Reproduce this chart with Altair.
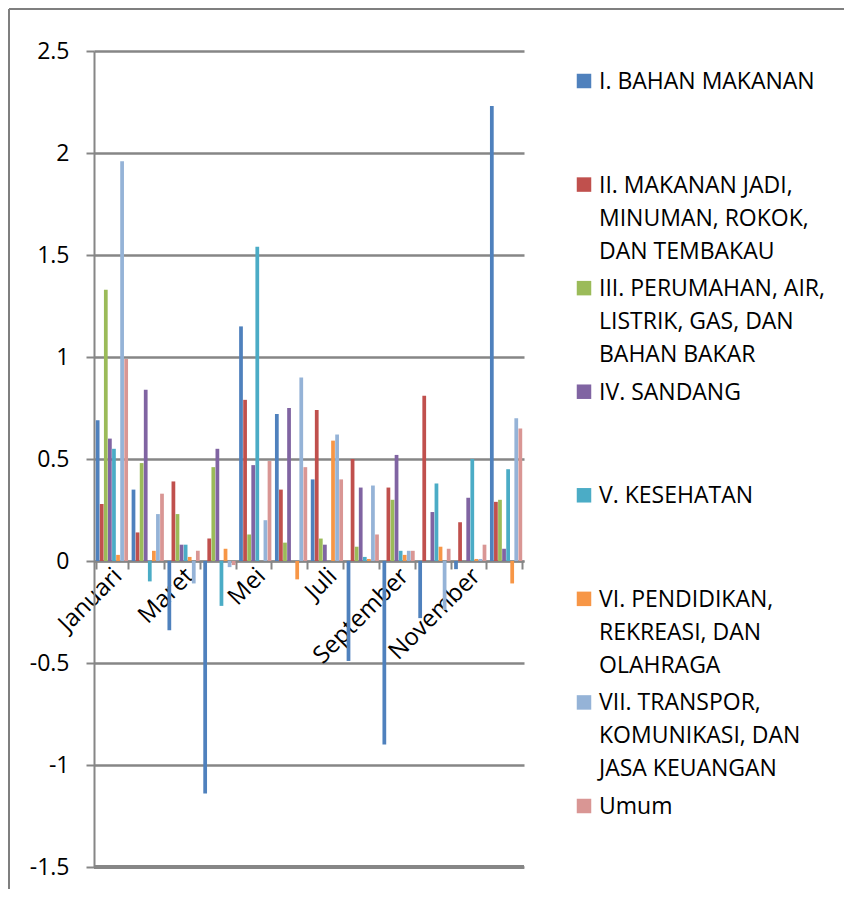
import altair as alt
import pandas as pd

months = ["Januari", "Februari", "Maret", "April", "Mei", "Juni", "Juli",
          "Agustus", "September", "Oktober", "November", "Desember"]
shown_labels = ["Januari", "Maret", "Mei", "Juli", "September", "November"]

series = [
    "I. BAHAN MAKANAN",
    "II. MAKANAN JADI,|MINUMAN, ROKOK,|DAN TEMBAKAU",
    "III. PERUMAHAN, AIR,|LISTRIK, GAS, DAN|BAHAN BAKAR",
    "IV. SANDANG",
    "V. KESEHATAN",
    "VI. PENDIDIKAN,|REKREASI, DAN|OLAHRAGA",
    "VII. TRANSPOR,|KOMUNIKASI, DAN|JASA KEUANGAN",
    "Umum",
]
colors = ["#4F81BD", "#C0504D", "#9BBB59", "#8064A2",
          "#4BACC6", "#F79646", "#95B3D7", "#D99694"]

bahan_makanan = [0.69, 0.35, -0.34, -1.14, 1.15, 0.72, 0.40, -0.49, -0.90, -0.28, -0.04, 2.23]
makanan_jadi = [0.28, 0.14, 0.39, 0.11, 0.79, 0.35, 0.74, 0.50, 0.36, 0.81, 0.19, 0.29]
perumahan = [1.33, 0.48, 0.23, 0.46, 0.13, 0.09, 0.11, 0.07, 0.30, 0.00, 0.00, 0.30]
sandang = [0.60, 0.84, 0.08, 0.55, 0.47, 0.75, 0.08, 0.36, 0.52, 0.24, 0.31, 0.06]
kesehatan = [0.55, -0.10, 0.08, -0.22, 1.54, 0.00, 0.00, 0.02, 0.05, 0.38, 0.50, 0.45]
pendidikan = [0.03, 0.05, 0.02, 0.06, 0.00, -0.09, 0.59, 0.01, 0.03, 0.07, 0.01, -0.11]
transpor = [1.96, 0.23, -0.11, -0.03, 0.20, 0.90, 0.62, 0.37, 0.05, -0.24, 0.01, 0.70]
umum = [0.99, 0.33, 0.05, -0.02, 0.49, 0.46, 0.40, 0.13, 0.05, 0.06, 0.08, 0.65]

all_values = [bahan_makanan, makanan_jadi, perumahan, sandang,
              kesehatan, pendidikan, transpor, umum]

rows = []
for s, vals in zip(series, all_values):
    for m, v in zip(months, vals):
        rows.append({"month": m, "series": s, "value": v})
df = pd.DataFrame(rows)
legend_df = pd.DataFrame({"series": series})

GRAY = "#868686"
FONT = "Open Sans"
y_ticks = [-1.5, -1, -0.5, 0, 0.5, 1, 1.5, 2, 2.5]

color_scale = alt.Scale(domain=series, range=colors)

bars = alt.Chart(df).mark_bar().encode(
    x=alt.X("month:N", sort=months,
            scale=alt.Scale(paddingInner=0.1, paddingOuter=0.05),
            axis=alt.Axis(title=None, offset=-306, labelAngle=-45,
                          labelAlign="right", labelBaseline="middle",
                          labelFont=FONT, labelFontSize=24, labelColor="black",
                          labelExpr="indexof(" + str(shown_labels) + ", datum.value) >= 0 ? datum.label : ''",
                          labelOffset=6, labelPadding=3,
                          tickBand="extent", tickColor=GRAY, tickSize=8, tickWidth=2,
                          domainColor=GRAY, domainWidth=2, grid=False)),
    xOffset=alt.XOffset("series:N", sort=series, scale=alt.Scale(paddingInner=0.08)),
    y=alt.Y("value:Q", scale=alt.Scale(domain=[-1.5, 2.5], nice=False, zero=False),
            axis=alt.Axis(title=None, values=y_ticks, labelExpr="'' + datum.value",
                          labelFont=FONT, labelFontSize=23, labelColor="black",
                          labelPadding=17, tickSize=8, tickColor=GRAY, tickWidth=2,
                          domainColor=GRAY, domainWidth=2,
                          grid=True, gridColor=GRAY, gridWidth=2.5)),
    color=alt.Color("series:N", scale=color_scale, legend=None),
)

bottom = alt.Chart(pd.DataFrame({"v": [-1.5]})).mark_rule(
    color=GRAY, strokeWidth=4).encode(y=alt.Y("v:Q"))

main = alt.layer(bars, bottom)

leg_y = alt.Y("series:N", sort=series,
              scale=alt.Scale(type="point", domain=series, range=[30, 755], padding=0),
              axis=None)

leg_sq = alt.Chart(legend_df).mark_square(size=210, opacity=1).encode(
    x=alt.value(490),
    y=leg_y,
    color=alt.Color("series:N", scale=color_scale, legend=None),
)
leg_txt = alt.Chart(legend_df).mark_text(
    align="left", baseline="alphabetic", dy=8, font=FONT, fontSize=23,
    lineHeight=33, lineBreak="|", color="black").encode(
    x=alt.value(505),
    y=leg_y,
    text="series:N",
)

frame_top = alt.Chart(legend_df).mark_rule(color="#7f7f7f", strokeWidth=2).encode(
    x=alt.value(-85), x2=alt.value(750), y=alt.value(-42))
frame_left = alt.Chart(legend_df).mark_rule(color="#7f7f7f", strokeWidth=2).encode(
    x=alt.value(-85), y=alt.value(-42), y2=alt.value(838))

chart = alt.layer(main, leg_sq, leg_txt, frame_top, frame_left).resolve_scale(
    y="independent"
).properties(width=430, height=816, padding=0).configure_view(stroke=None)

chart.save("out.html", embed_options={"renderer": "svg", "actions": False})
